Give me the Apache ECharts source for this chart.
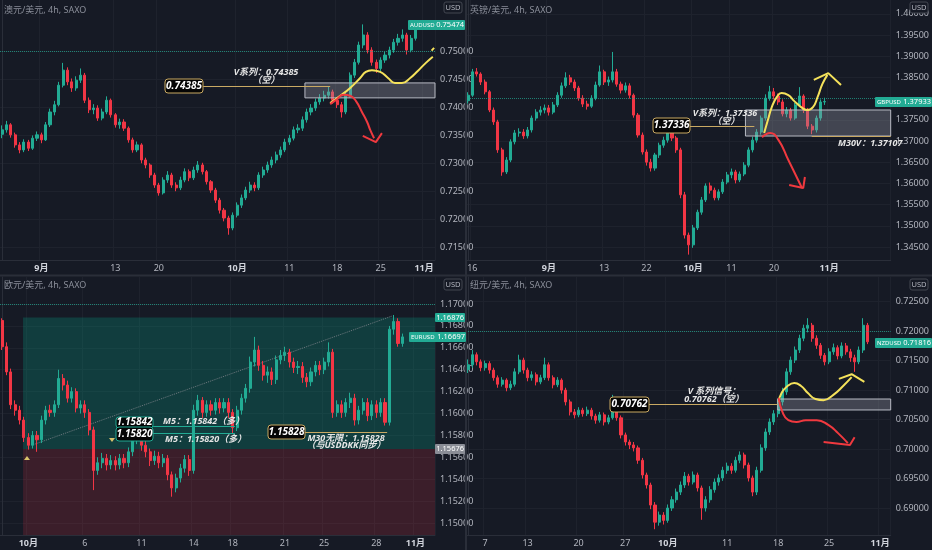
<!DOCTYPE html>
<html>
<head>
<meta charset="utf-8">
<title>index.html</title>
<style>
html, body { margin: 0; padding: 0; background: #161a25; }
#main { width: 932px; height: 550px; }
</style>
</head>
<body>
<div id="main"></div>
<script src="https://cdn.jsdelivr.net/npm/echarts@6.0.0/dist/echarts.min.js"></script>
<script>
// 4h candles, [open, close, low, high]
var audCandles = [
  [0.7352,0.7360,0.7345,0.7368],[0.7360,0.7369,0.7355,0.7376],[0.7369,0.7351,0.7346,0.7372],[0.7351,0.7333,0.7328,0.7355],[0.7333,0.7324,0.7318,0.7338],
  [0.7324,0.7338,0.7320,0.7343],[0.7338,0.7327,0.7322,0.7342],[0.7327,0.7345,0.7324,0.7350],[0.7345,0.7351,0.7340,0.7357],[0.7351,0.7342,0.7336,0.7355],
  [0.7342,0.7369,0.7340,0.7374],[0.7369,0.7392,0.7365,0.7398],[0.7392,0.7405,0.7386,0.7412],[0.7405,0.7440,0.7402,0.7446],[0.7440,0.7467,0.7436,0.7480],
  [0.7467,0.7446,0.7440,0.7472],[0.7446,0.7435,0.7428,0.7452],[0.7435,0.7449,0.7430,0.7456],[0.7449,0.7458,0.7444,0.7470],[0.7458,0.7413,0.7408,0.7462],
  [0.7413,0.7396,0.7390,0.7418],[0.7396,0.7399,0.7388,0.7406],[0.7399,0.7381,0.7376,0.7404],[0.7381,0.7392,0.7377,0.7398],[0.7392,0.7413,0.7388,0.7420],
  [0.7413,0.7387,0.7382,0.7416],[0.7387,0.7369,0.7364,0.7390],[0.7369,0.7374,0.7362,0.7380],[0.7374,0.7363,0.7358,0.7379],[0.7363,0.7342,0.7337,0.7366],
  [0.7342,0.7324,0.7319,0.7346],[0.7324,0.7333,0.7320,0.7339],[0.7333,0.7306,0.7300,0.7336],[0.7306,0.7297,0.7291,0.7310],[0.7297,0.7279,0.7274,0.7300],
  [0.7279,0.7261,0.7256,0.7283],[0.7261,0.7247,0.7242,0.7265],[0.7247,0.7270,0.7244,0.7275],[0.7270,0.7279,0.7265,0.7286],[0.7279,0.7261,0.7256,0.7283],
  [0.7261,0.7256,0.7250,0.7266],[0.7256,0.7270,0.7252,0.7276],[0.7270,0.7285,0.7266,0.7291],[0.7285,0.7274,0.7268,0.7289],[0.7274,0.7288,0.7270,0.7294],
  [0.7288,0.7297,0.7283,0.7304],[0.7297,0.7285,0.7280,0.7301],[0.7285,0.7267,0.7262,0.7288],[0.7267,0.7252,0.7247,0.7270],[0.7252,0.7234,0.7229,0.7256],
  [0.7234,0.7216,0.7210,0.7238],[0.7216,0.7202,0.7196,0.7220],[0.7202,0.7184,0.7172,0.7206],[0.7184,0.7207,0.7180,0.7212],[0.7207,0.7225,0.7203,0.7230],
  [0.7225,0.7238,0.7220,0.7244],[0.7238,0.7252,0.7234,0.7258],[0.7252,0.7261,0.7247,0.7267],[0.7261,0.7256,0.7250,0.7266],[0.7256,0.7279,0.7252,0.7284],
  [0.7279,0.7288,0.7274,0.7294],[0.7288,0.7297,0.7283,0.7303],[0.7297,0.7306,0.7292,0.7312],[0.7306,0.7315,0.7300,0.7321],[0.7315,0.7324,0.7310,0.7330],
  [0.7324,0.7338,0.7320,0.7344],[0.7338,0.7345,0.7333,0.7351],[0.7345,0.7360,0.7341,0.7366],[0.7360,0.7363,0.7354,0.7370],[0.7363,0.7378,0.7358,0.7384],
  [0.7378,0.7392,0.7373,0.7398],[0.7392,0.7399,0.7386,0.7406],[0.7399,0.7410,0.7394,0.7416],[0.7410,0.7417,0.7405,0.7424],[0.7417,0.7422,0.7411,0.7430],
  [0.7422,0.7428,0.7416,0.7438],[0.7428,0.7413,0.7407,0.7432],[0.7413,0.7405,0.7399,0.7418],[0.7405,0.7392,0.7382,0.7410],[0.7392,0.7422,0.7388,0.7427],
  [0.7422,0.7458,0.7418,0.7463],[0.7458,0.7481,0.7453,0.7487],[0.7481,0.7512,0.7477,0.7518],[0.7512,0.7530,0.7506,0.7549],[0.7530,0.7503,0.7497,0.7535],
  [0.7503,0.7481,0.7475,0.7508],[0.7481,0.7470,0.7462,0.7486],[0.7470,0.7485,0.7465,0.7490],[0.7485,0.7494,0.7480,0.7500],[0.7494,0.7503,0.7488,0.7509],
  [0.7503,0.7517,0.7498,0.7523],[0.7517,0.7524,0.7511,0.7532],[0.7524,0.7530,0.7518,0.7540],[0.7530,0.7503,0.7495,0.7534],[0.7503,0.7524,0.7499,0.7530],
  [0.7524,0.7547,0.7520,0.7550]
];
var gbpCandles = [
  [1.3795,1.3808,1.3788,1.3815],[1.3808,1.3863,1.3804,1.3870],[1.3863,1.3858,1.3852,1.3872],[1.3858,1.3839,1.3832,1.3862],[1.3839,1.3816,1.3810,1.3845],
  [1.3816,1.3773,1.3768,1.3820],[1.3773,1.3745,1.3738,1.3779],[1.3745,1.3679,1.3672,1.3750],[1.3679,1.3627,1.3618,1.3684],[1.3627,1.3655,1.3622,1.3662],
  [1.3655,1.3698,1.3650,1.3704],[1.3698,1.3719,1.3692,1.3726],[1.3719,1.3721,1.3710,1.3730],[1.3721,1.3712,1.3705,1.3728],[1.3712,1.3726,1.3706,1.3733],
  [1.3726,1.3754,1.3720,1.3760],[1.3754,1.3768,1.3748,1.3775],[1.3768,1.3773,1.3760,1.3782],[1.3773,1.3778,1.3765,1.3786],[1.3778,1.3768,1.3760,1.3785],
  [1.3768,1.3785,1.3763,1.3792],[1.3785,1.3808,1.3780,1.3815],[1.3808,1.3830,1.3802,1.3838],[1.3830,1.3849,1.3825,1.3862],[1.3849,1.3839,1.3832,1.3856],
  [1.3839,1.3825,1.3818,1.3845],[1.3825,1.3801,1.3795,1.3830],[1.3801,1.3787,1.3780,1.3808],[1.3787,1.3782,1.3774,1.3795],[1.3782,1.3801,1.3778,1.3808],
  [1.3801,1.3832,1.3796,1.3840],[1.3832,1.3863,1.3828,1.3878],[1.3863,1.3839,1.3832,1.3868],[1.3839,1.3844,1.3830,1.3852],[1.3844,1.3863,1.3838,1.3910],
  [1.3863,1.3834,1.3828,1.3870],[1.3834,1.3820,1.3812,1.3840],[1.3820,1.3830,1.3814,1.3838],[1.3830,1.3808,1.3800,1.3836],[1.3808,1.3761,1.3755,1.3812],
  [1.3761,1.3714,1.3708,1.3766],[1.3714,1.3674,1.3668,1.3720],[1.3674,1.3650,1.3642,1.3680],[1.3650,1.3636,1.3628,1.3658],[1.3636,1.3667,1.3630,1.3672],
  [1.3667,1.3690,1.3660,1.3696],[1.3690,1.3702,1.3684,1.3710],[1.3702,1.3721,1.3696,1.3730],[1.3721,1.3707,1.3700,1.3728],[1.3707,1.3679,1.3672,1.3712],
  [1.3679,1.3573,1.3565,1.3684],[1.3573,1.3478,1.3470,1.3580],[1.3478,1.3455,1.3432,1.3484],[1.3455,1.3495,1.3448,1.3502],[1.3495,1.3532,1.3490,1.3538],
  [1.3532,1.3561,1.3526,1.3568],[1.3561,1.3594,1.3556,1.3600],[1.3594,1.3584,1.3576,1.3602],[1.3584,1.3566,1.3560,1.3590],[1.3566,1.3580,1.3560,1.3586],
  [1.3580,1.3603,1.3575,1.3610],[1.3603,1.3620,1.3598,1.3627],[1.3620,1.3627,1.3612,1.3635],[1.3627,1.3608,1.3600,1.3632],[1.3608,1.3622,1.3603,1.3628],
  [1.3622,1.3643,1.3617,1.3650],[1.3643,1.3679,1.3638,1.3685],[1.3679,1.3702,1.3673,1.3710],[1.3702,1.3721,1.3696,1.3728],[1.3721,1.3754,1.3715,1.3760],
  [1.3754,1.3801,1.3748,1.3810],[1.3801,1.3816,1.3795,1.3830],[1.3816,1.3806,1.3798,1.3825],[1.3806,1.3792,1.3785,1.3812],[1.3792,1.3764,1.3758,1.3798],
  [1.3764,1.3773,1.3756,1.3780],[1.3773,1.3754,1.3748,1.3778],[1.3754,1.3785,1.3750,1.3790],[1.3785,1.3806,1.3780,1.3827],[1.3806,1.3773,1.3766,1.3810],
  [1.3773,1.3735,1.3728,1.3778],[1.3735,1.3726,1.3716,1.3740],[1.3726,1.3754,1.3720,1.3760],[1.3754,1.3792,1.3748,1.3798],[1.3792,1.3793,1.3785,1.3802]
];
var eurCandles = [
  [1.1685,1.1661,1.1658,1.1687],[1.1661,1.1638,1.1635,1.1665],[1.1638,1.1608,1.1604,1.1641],[1.1608,1.1603,1.1598,1.1612],[1.1603,1.1594,1.1590,1.1607],
  [1.1594,1.1578,1.1574,1.1597],[1.1578,1.1571,1.1567,1.1582],[1.1571,1.1580,1.1568,1.1584],[1.1580,1.1576,1.1565,1.1584],[1.1576,1.1594,1.1573,1.1598],
  [1.1594,1.1603,1.1590,1.1607],[1.1603,1.1601,1.1597,1.1608],[1.1601,1.1608,1.1597,1.1612],[1.1608,1.1632,1.1605,1.1640],[1.1632,1.1626,1.1621,1.1636],
  [1.1626,1.1614,1.1610,1.1630],[1.1614,1.1620,1.1610,1.1624],[1.1620,1.1605,1.1601,1.1623],[1.1605,1.1608,1.1600,1.1612],[1.1608,1.1601,1.1596,1.1612],
  [1.1601,1.1585,1.1580,1.1604],[1.1585,1.1548,1.1530,1.1588],[1.1548,1.1555,1.1544,1.1560],[1.1555,1.1559,1.1550,1.1564],[1.1559,1.1553,1.1548,1.1563],
  [1.1553,1.1557,1.1549,1.1562],[1.1557,1.1553,1.1548,1.1561],[1.1553,1.1559,1.1549,1.1563],[1.1559,1.1555,1.1550,1.1563],[1.1555,1.1565,1.1551,1.1569],
  [1.1565,1.1576,1.1561,1.1580],[1.1576,1.1580,1.1572,1.1586],[1.1580,1.1571,1.1566,1.1584],[1.1571,1.1565,1.1560,1.1575],[1.1565,1.1557,1.1552,1.1568],
  [1.1557,1.1561,1.1553,1.1566],[1.1561,1.1555,1.1550,1.1565],[1.1555,1.1559,1.1551,1.1563],[1.1559,1.1544,1.1539,1.1562],[1.1544,1.1532,1.1524,1.1547],
  [1.1532,1.1541,1.1528,1.1545],[1.1541,1.1550,1.1537,1.1554],[1.1550,1.1558,1.1546,1.1562],[1.1558,1.1548,1.1543,1.1562],[1.1548,1.1603,1.1545,1.1608],
  [1.1603,1.1612,1.1598,1.1617],[1.1612,1.1601,1.1596,1.1615],[1.1601,1.1608,1.1597,1.1612],[1.1608,1.1603,1.1598,1.1612],[1.1603,1.1610,1.1599,1.1614],
  [1.1610,1.1605,1.1600,1.1614],[1.1605,1.1610,1.1601,1.1614],[1.1610,1.1601,1.1596,1.1614],[1.1601,1.1587,1.1582,1.1604],[1.1587,1.1603,1.1584,1.1607],
  [1.1603,1.1614,1.1599,1.1618],[1.1614,1.1623,1.1610,1.1627],[1.1623,1.1647,1.1619,1.1652],[1.1647,1.1658,1.1643,1.1670],[1.1658,1.1644,1.1639,1.1662],
  [1.1644,1.1635,1.1630,1.1648],[1.1635,1.1638,1.1628,1.1643],[1.1638,1.1631,1.1626,1.1642],[1.1631,1.1649,1.1627,1.1653],[1.1649,1.1653,1.1645,1.1658],
  [1.1653,1.1656,1.1648,1.1661],[1.1656,1.1647,1.1642,1.1659],[1.1647,1.1642,1.1637,1.1651],[1.1642,1.1643,1.1636,1.1648],[1.1643,1.1633,1.1628,1.1647],
  [1.1633,1.1629,1.1624,1.1637],[1.1629,1.1638,1.1625,1.1642],[1.1638,1.1644,1.1634,1.1648],[1.1644,1.1640,1.1635,1.1648],[1.1640,1.1647,1.1636,1.1651],
  [1.1647,1.1656,1.1643,1.1665],[1.1656,1.1601,1.1596,1.1659],[1.1601,1.1608,1.1597,1.1612],[1.1608,1.1601,1.1596,1.1612],[1.1601,1.1610,1.1597,1.1614],
  [1.1610,1.1614,1.1605,1.1619],[1.1614,1.1594,1.1589,1.1618],[1.1594,1.1603,1.1590,1.1607],[1.1603,1.1610,1.1599,1.1614],[1.1610,1.1598,1.1593,1.1614],
  [1.1598,1.1608,1.1594,1.1612],[1.1608,1.1601,1.1596,1.1612],[1.1601,1.1610,1.1597,1.1614],[1.1610,1.1592,1.1589,1.1614],[1.1592,1.1677,1.1589,1.1680],
  [1.1677,1.1684,1.1672,1.1690],[1.1684,1.1664,1.1661,1.1687],[1.1664,1.1670,1.1661,1.1673]
];
var nzdCandles = [
  [0.7135,0.7143,0.7129,0.7152],[0.7143,0.7160,0.7138,0.7168],[0.7160,0.7148,0.7142,0.7164],[0.7148,0.7138,0.7132,0.7152],[0.7138,0.7145,0.7133,0.7150],
  [0.7145,0.7134,0.7128,0.7149],[0.7134,0.7121,0.7116,0.7138],[0.7121,0.7110,0.7104,0.7125],[0.7110,0.7117,0.7106,0.7122],[0.7117,0.7104,0.7098,0.7120],
  [0.7104,0.7110,0.7100,0.7116],[0.7110,0.7131,0.7106,0.7137],[0.7131,0.7151,0.7127,0.7160],[0.7151,0.7134,0.7128,0.7155],[0.7134,0.7121,0.7115,0.7138],
  [0.7121,0.7126,0.7116,0.7132],[0.7126,0.7114,0.7108,0.7130],[0.7114,0.7121,0.7110,0.7126],[0.7121,0.7143,0.7117,0.7155],[0.7143,0.7121,0.7116,0.7147],
  [0.7121,0.7109,0.7103,0.7125],[0.7109,0.7117,0.7105,0.7122],[0.7117,0.7100,0.7094,0.7120],[0.7100,0.7080,0.7074,0.7104],[0.7080,0.7063,0.7057,0.7084],
  [0.7063,0.7058,0.7052,0.7068],[0.7058,0.7066,0.7054,0.7071],[0.7066,0.7060,0.7055,0.7070],[0.7060,0.7066,0.7056,0.7072],[0.7066,0.7056,0.7050,0.7070],
  [0.7056,0.7049,0.7043,0.7060],[0.7049,0.7058,0.7045,0.7063],[0.7058,0.7046,0.7040,0.7062],[0.7046,0.7053,0.7042,0.7058],[0.7053,0.7076,0.7050,0.7092],
  [0.7076,0.7053,0.7048,0.7080],[0.7053,0.7024,0.7018,0.7057],[0.7024,0.7012,0.7006,0.7028],[0.7012,0.7007,0.7000,0.7016],[0.7007,0.7002,0.6996,0.7012],
  [0.7002,0.6981,0.6975,0.7006],[0.6981,0.6956,0.6950,0.6985],[0.6956,0.6939,0.6933,0.6960],[0.6939,0.6905,0.6898,0.6943],[0.6905,0.6876,0.6864,0.6910],
  [0.6876,0.6888,0.6870,0.6894],[0.6888,0.6879,0.6872,0.6893],[0.6879,0.6900,0.6875,0.6906],[0.6900,0.6914,0.6895,0.6920],[0.6914,0.6927,0.6909,0.6933],
  [0.6927,0.6939,0.6922,0.6945],[0.6939,0.6954,0.6934,0.6961],[0.6954,0.6944,0.6938,0.6958],[0.6944,0.6956,0.6940,0.6962],[0.6956,0.6934,0.6928,0.6960],
  [0.6934,0.6900,0.6880,0.6938],[0.6900,0.6914,0.6894,0.6920],[0.6914,0.6931,0.6909,0.6937],[0.6931,0.6944,0.6926,0.6950],[0.6944,0.6951,0.6938,0.6957],
  [0.6951,0.6964,0.6946,0.6970],[0.6964,0.6971,0.6958,0.6977],[0.6971,0.6964,0.6958,0.6976],[0.6964,0.6981,0.6960,0.6987],[0.6981,0.6990,0.6976,0.6996],
  [0.6990,0.6973,0.6967,0.6994],[0.6973,0.6951,0.6945,0.6977],[0.6951,0.6927,0.6920,0.6955],[0.6927,0.6964,0.6922,0.6970],[0.6964,0.7002,0.6960,0.7008],
  [0.7002,0.7029,0.6997,0.7035],[0.7029,0.7046,0.7024,0.7052],[0.7046,0.7060,0.7041,0.7066],[0.7060,0.7080,0.7054,0.7086],[0.7080,0.7097,0.7074,0.7104],
  [0.7097,0.7131,0.7092,0.7137],[0.7131,0.7151,0.7126,0.7157],[0.7151,0.7168,0.7146,0.7174],[0.7168,0.7188,0.7163,0.7194],[0.7188,0.7205,0.7183,0.7211],
  [0.7205,0.7210,0.7198,0.7222],[0.7210,0.7188,0.7182,0.7214],[0.7188,0.7176,0.7170,0.7193],[0.7176,0.7159,0.7153,0.7180],[0.7159,0.7148,0.7142,0.7163],
  [0.7148,0.7165,0.7144,0.7171],[0.7165,0.7172,0.7160,0.7179],[0.7172,0.7158,0.7152,0.7176],[0.7158,0.7175,0.7154,0.7181],[0.7175,0.7165,0.7160,0.7180],
  [0.7165,0.7155,0.7148,0.7170],[0.7155,0.7148,0.7131,0.7160],[0.7148,0.7168,0.7144,0.7174],[0.7168,0.7210,0.7163,0.7222],[0.7210,0.7182,0.7178,0.7214]
];

// time axis: candle index where a date label sits
var audTickIdx = [9, 26, 36, 54, 66, 77, 87, 97];
var audTickText = ['9月', '13', '20', '10月', '11', '18', '25', '11月'];
var gbpTickIdx = [1, 19, 32, 42, 53, 62, 72, 85];
var gbpTickText = ['16', '9月', '13', '22', '10月', '11', '20', '11月'];
var eurTickIdx = [6, 19, 32, 44, 53, 65, 74, 86, 95];
var eurTickText = ['10月', '6', '11', '14', '18', '21', '25', '28', '11月'];
var nzdTickIdx = [4, 14, 26, 37, 47, 61, 73, 85, 97];
var nzdTickText = ['7', '13', '20', '27', '10月', '11', '18', '25', '11月'];

// price scale labels
var audPriceTicks = [0.715, 0.72, 0.725, 0.73, 0.735, 0.74, 0.745, 0.75];
var gbpPriceTicks = [1.345, 1.35, 1.355, 1.36, 1.365, 1.37, 1.375, 1.385, 1.39, 1.395, 1.4];
var eurPriceTicks = [1.15, 1.152, 1.154, 1.156, 1.158, 1.16, 1.162, 1.164, 1.166, 1.168, 1.17];
var nzdPriceTicks = [0.69, 0.695, 0.70, 0.705, 0.71, 0.715, 0.72, 0.725];
var lastPrices = [0.75474, 1.37933, 1.16697, 0.71816];

// hand drawn curves, [candle index, price]
var audYellow = [[75.4,0.7408],[77.7,0.7421],[80,0.7435],[82.3,0.7453],[83.6,0.7464],[85,0.7467],[86.9,0.7464],[88.7,0.7453],[90.3,0.7444],[91.9,0.7444],[93.8,0.7453],[95.6,0.7466],[97.4,0.7480],[99.0,0.7491]];
var audYellowDash = [[98.7,0.7502],[99.3,0.7507]];
var audRed = [[75.4,0.7406],[77,0.7415],[78.4,0.7423],[80,0.7421],[81.3,0.7412],[82.7,0.7392],[83.9,0.7374],[84.6,0.7360],[85.5,0.7345]];
var audRedHead = [[82.9,0.7349],[85.9,0.7338],[87.3,0.7354]];
var gbpYellow = [[69.7,1.3719],[70.6,1.3750],[71.5,1.3780],[72.7,1.3804],[73.8,1.3813],[75.4,1.3808],[76.8,1.3794],[78.4,1.3780],[79.8,1.3773],[81.2,1.3780],[82.3,1.3804],[83.4,1.3834],[84.6,1.3856]];
var gbpYellowHead = [[81.4,1.3844],[84.8,1.3860],[87.8,1.3832]];
var gbpRed = [[69.2,1.3709],[71.1,1.3719],[73.1,1.3702],[75.4,1.3655],[77.7,1.3608],[78.6,1.3589]];
var gbpRedHead = [[75.6,1.3596],[78.9,1.3589],[79.3,1.3615]];
var nzdYellow = [[73.1,0.7080],[73.8,0.7095],[75.2,0.7107],[76.8,0.7112],[78.4,0.7107],[80,0.7095],[81.8,0.7085],[83.7,0.7083],[86,0.7092],[88.3,0.7107],[90.3,0.7122]];
var nzdYellowHead = [[87.3,0.7119],[90.3,0.7127],[93.3,0.7114]];
var nzdRed = [[73.1,0.7087],[74,0.7063],[75.4,0.7049],[77.3,0.7046],[79.5,0.7049],[82.1,0.7049],[84.8,0.7041],[87.1,0.7027],[89.4,0.7010]];
var nzdRedHead = [[83.7,0.7012],[89.9,0.7007],[91,0.7020]];
var eurDiag = [[7.5,1.1572],[89.6,1.1689]];

var UP = '#22ab94', DOWN = '#f23645', YEL = '#f5e25b', RED = '#f0393f', TAN = '#c9a963';
var TXT = '#b2b5be', LINE = '#2a2e39', GRIDC = '#1e222d', BG = '#161a25';
var FONT = '"Noto Sans", "Noto Sans CJK SC", sans-serif';

var panes = [
  { left: 0, top: 0, w: 435, h: 260, ymin: 0.71267, ymax: 0.75927, candles: audCandles, ticks: audTickIdx, tickText: audTickText, prices: audPriceTicks },
  { left: 466, top: 0, w: 436, h: 260, ymin: 1.34193, ymax: 1.40325, candles: gbpCandles, ticks: gbpTickIdx, tickText: gbpTickText, prices: gbpPriceTicks },
  { left: 0, top: 277, w: 435, h: 258, ymin: 1.1489, ymax: 1.17247, candles: eurCandles, ticks: eurTickIdx, tickText: eurTickText, prices: eurPriceTicks },
  { left: 466, top: 277, w: 436, h: 258, ymin: 0.68542, ymax: 0.72919, candles: nzdCandles, ticks: nzdTickIdx, tickText: nzdTickText, prices: nzdPriceTicks }
];
var N = 100;

var grid = [], xAxis = [], yAxis = [], series = [];
panes.forEach(function (p, k) {
  grid.push({ left: p.left, top: p.top, width: p.w, height: p.h });
  var cats = [];
  for (var i = 0; i < N; i++) cats.push(String(i));
  var isTick = function (i) { return p.ticks.indexOf(i) >= 0; };
  xAxis.push({
    type: 'category', gridIndex: k, data: cats, boundaryGap: true,
    axisLine: { lineStyle: { color: LINE } },
    axisTick: { show: false },
    axisLabel: {
      interval: isTick, color: TXT, fontSize: 9, margin: 4, fontFamily: FONT,
      formatter: function (v) {
        var t = p.tickText[p.ticks.indexOf(parseInt(v, 10))] || '';
        return t.indexOf('月') >= 0 ? '{m|' + t + '}' : t;
      },
      rich: { m: { fontWeight: 'bold', color: '#d1d4dc', fontSize: 9, fontFamily: FONT } }
    },
    splitLine: { show: true, interval: isTick, lineStyle: { color: GRIDC } }
  });
  yAxis.push({
    type: 'value', gridIndex: k, position: 'right', min: p.ymin, max: p.ymax,
    axisLine: { show: true, lineStyle: { color: LINE } },
    axisTick: { show: false, customValues: p.prices },
    axisLabel: {
      customValues: p.prices, color: TXT, fontSize: 9, margin: 5, fontFamily: FONT,
      formatter: function (v) { return v.toFixed(5); }
    },
    splitLine: { show: true, lineStyle: { color: GRIDC } }
  });
  series.push({
    type: 'candlestick', xAxisIndex: k, yAxisIndex: k, data: p.candles, barWidth: '60%',
    itemStyle: { color: UP, color0: DOWN, borderColor: UP, borderColor0: DOWN, borderWidth: 1 },
    markLine: {
      silent: true, symbol: 'none', label: { show: false },
      lineStyle: { color: UP, type: 'dotted', width: 1, opacity: 0.7 },
      data: [{ yAxis: lastPrices[k] }]
    }
  });
});
// hidden value x axes so drawings can sit between candles
panes.forEach(function (p, k) {
  xAxis.push({ type: 'value', gridIndex: k, min: -0.5, max: N - 0.5, show: false });
});

function seg(a, b, price, color) {
  return [{ coord: [a, price], lineStyle: { color: color, width: 1, type: 'solid' } }, { coord: [b, price] }];
}
function box(a, b, p1, p2) {
  return [{ coord: [a, p1] }, { coord: [b, p2] }];
}
function draw(k, pts, color, smooth, extra) {
  var s = {
    type: 'line', xAxisIndex: 4 + k, yAxisIndex: k, data: pts, smooth: smooth ? 0.5 : false,
    showSymbol: false, symbol: 'none', silent: true, z: 6,
    lineStyle: { color: color, width: 2 }
  };
  if (extra) for (var key in extra) s[key] = extra[key];
  return s;
}
function mArea(list) {
  return { silent: true, z: 3, itemStyle: { color: 'rgba(150,153,162,0.35)', borderColor: '#b8bbc4', borderWidth: 1 }, data: list };
}
function mLine(list) { return { silent: true, symbol: 'none', label: { show: false }, data: list }; }

// EURUSD long position tool, behind candles
series.push({
  type: 'line', xAxisIndex: 6, yAxisIndex: 2, data: eurDiag, showSymbol: false, silent: true, z: 1,
  lineStyle: { color: '#6f7a80', type: 'dotted', width: 1 },
  markArea: {
    silent: true, z: 1,
    data: [
      [{ coord: [4.8, 1.16876], itemStyle: { color: 'rgba(8,153,129,0.28)' } }, { coord: [N - 0.5, 1.15676] }],
      [{ coord: [4.8, 1.15676], itemStyle: { color: 'rgba(242,54,69,0.17)' } }, { coord: [N - 0.5, 1.1489] }]
    ]
  },
  markLine: mLine([seg(34.7, 53.5, 1.15885, UP), seg(34.7, 53.5, 1.1582, UP), seg(69.6, 88.5, 1.15828, TAN)])
});

series.push(draw(0, audYellow, YEL, true, {
  markArea: mArea([box(69.6, N - 0.5, 0.74441, 0.74173)]),
  markLine: mLine([seg(46.2, 75.4, 0.74385, TAN)])
}));
series.push(draw(0, audYellowDash, YEL, false));
series.push(draw(0, audRed, RED, true));
series.push(draw(0, audRedHead, RED, false));
series.push(draw(1, gbpYellow, YEL, true, {
  markArea: mArea([box(65.3, N - 0.5, 1.37731, 1.37117)]),
  markLine: mLine([seg(50.9, 67.4, 1.37336, TAN), seg(80.9, N - 0.5, 1.37107, TAN)])
}));
series.push(draw(1, gbpYellowHead, YEL, false));
series.push(draw(1, gbpRed, RED, true));
series.push(draw(1, gbpRedHead, RED, false));
series.push(draw(3, nzdYellow, YEL, true, {
  markArea: mArea([box(72.9, N - 0.5, 0.70849, 0.70663)]),
  markLine: mLine([seg(41.5, 72.9, 0.70762, TAN)])
}));
series.push(draw(3, nzdYellowHead, YEL, false));
series.push(draw(3, nzdRed, RED, true));
series.push(draw(3, nzdRedHead, RED, false));

// text and label boxes
function txt(x, y, s, o) {
  o = o || {};
  var st = {
    text: s, x: x, y: y, fill: o.fill || '#ffffff', textAlign: o.align || 'left', textVerticalAlign: 'middle',
    font: (o.italic ? 'italic ' : '') + (o.bold ? 'bold ' : '') + (o.size || 9) + 'px ' + FONT
  };
  if (o.width) { st.width = o.width; st.overflow = 'truncate'; st.ellipsis = ''; }
  return { type: 'text', z: 20, silent: true, style: st };
}
function rect(x, y, w, h, fill, stroke, r) {
  return { type: 'rect', z: 19, silent: true, shape: { x: x, y: y, width: w, height: h, r: r || 0 },
    style: { fill: fill, stroke: stroke || null, lineWidth: 1 } };
}
function tag(x, y, w, h, s, stroke) {
  return [rect(x, y, w, h, '#050505', stroke, 3), txt(x + w / 2, y + h / 2, s, { align: 'center', italic: true, bold: true, size: 10 })];
}
function note(x, y, s, align, width) {
  return txt(x, y, s, { align: align || 'center', italic: true, bold: true, size: 9, fill: '#e6e6e6', width: width });
}
function priceTag(x, y, name, val) {
  return [rect(x, y, 57, 10, UP, null, 1),
    txt(x + 2, y + 5, name, { size: 6 }),
    txt(x + 56, y + 5, val, { size: 7.5, align: 'right' })];
}

var graphic = [];
graphic.push(txt(4, 10, '澳元/美元, 4h, SAXO', { fill: '#8a8e99', size: 9 }));
graphic.push(txt(470, 10, '英镑/美元, 4h, SAXO', { fill: '#8a8e99', size: 9 }));
graphic.push(txt(4, 285, '欧元/美元, 4h, SAXO', { fill: '#8a8e99', size: 9 }));
graphic.push(txt(470, 285, '纽元/美元, 4h, SAXO', { fill: '#8a8e99', size: 9 }));
panes.forEach(function (p) {
  graphic.push(rect(p.left + 444, p.top + 2, 18, 11, BG, '#434651', 2));
  graphic.push(txt(p.left + 453, p.top + 7.5, 'USD', { align: 'center', size: 7.5, fill: TXT }));
});
graphic = graphic.concat(priceTag(408, 20, 'AUDUSD', '0.75474'));
graphic = graphic.concat(priceTag(875, 97, 'GBPUSD', '1.37933'));
graphic = graphic.concat(priceTag(409, 332, 'EURUSD', '1.16697'));
graphic = graphic.concat(priceTag(875, 338, 'NZDUSD', '0.71816'));
graphic.push(rect(435, 313, 30, 9, UP, null, 1));
graphic.push(txt(464, 317.5, '1.16876', { size: 7.5, align: 'right' }));
graphic.push(rect(435, 444, 30, 10, '#8a8d96', null, 1));
graphic.push(txt(464, 449, '1.15676', { size: 7.5, align: 'right' }));

graphic = graphic.concat(tag(165, 79, 38, 14, '0.74385', TAN));
graphic.push(note(266, 72.5, 'V系列：0.74385'));
graphic.push(note(266, 80.5, '（空）'));
graphic = graphic.concat(tag(653, 118, 37, 15, '1.37336', TAN));
graphic.push(note(725, 113, 'V系列：1.37336'));
graphic.push(note(726, 121.5, '（空）'));
graphic.push(note(838, 143, 'M30V：1.37107（多）', 'left', 72));
graphic = graphic.concat(tag(116, 417, 37, 11, '1.15842', UP));
graphic = graphic.concat(tag(116, 427, 37, 14, '1.15820', UP));
graphic.push(note(163, 421, 'M5：1.15842（多）', 'left'));
graphic.push(note(165, 439, 'M5：1.15820（多）', 'left'));
graphic = graphic.concat(tag(268, 425, 37, 14, '1.15828', TAN));
graphic.push(note(346, 438, 'M30无限：1.15828'));
graphic.push(note(346, 445.5, '（与USDDKK同步）'));
graphic = graphic.concat(tag(610, 397, 39, 15, '0.70762', TAN));
graphic.push(note(714, 391, 'V 系列信号：'));
graphic.push(note(714, 399.5, '0.70762（空）'));
graphic.push({ type: 'polygon', z: 20, silent: true, shape: { points: [[109, 438], [115, 438], [112, 442]] }, style: { fill: '#d9c26a' } });
graphic.push({ type: 'polygon', z: 20, silent: true, shape: { points: [[24, 460], [30, 460], [27, 456]] }, style: { fill: '#d9c26a' } });
graphic.push({ type: 'line', z: 18, silent: true, shape: { x1: 466, y1: 0, x2: 466, y2: 550 }, style: { stroke: LINE, lineWidth: 2 } });
graphic.push({ type: 'line', z: 18, silent: true, shape: { x1: 0, y1: 275.5, x2: 932, y2: 275.5 }, style: { stroke: LINE, lineWidth: 2 } });

var myChart = echarts.init(document.getElementById('main'));
myChart.setOption({
  backgroundColor: BG,
  animation: false,
  textStyle: { fontFamily: FONT },
  grid: grid,
  xAxis: xAxis,
  yAxis: yAxis,
  series: series,
  graphic: graphic
});
</script>
</body>
</html>
